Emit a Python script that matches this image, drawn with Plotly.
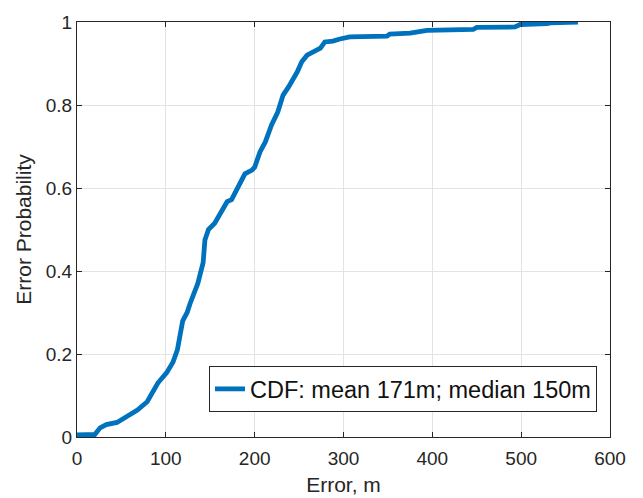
import plotly.graph_objects as go

error_m = [0, 10, 20, 26, 33, 45, 54, 68, 79, 91, 101, 108, 113, 119, 124, 127,
           136, 142, 144, 148, 155, 163, 169, 174, 184, 189, 197, 200, 206, 212,
           219, 226, 232, 238, 248, 253, 259, 268, 274, 279, 288, 296, 307, 349,
           352, 375, 381, 394, 446, 450, 493, 499, 529, 533, 564]
cdf = [0.005, 0.005, 0.006, 0.022, 0.030, 0.035, 0.048, 0.065, 0.085, 0.13,
       0.155, 0.18, 0.21, 0.28, 0.30, 0.32, 0.37, 0.42, 0.475, 0.50, 0.515,
       0.547, 0.567, 0.572, 0.612, 0.634, 0.643, 0.65, 0.687, 0.711, 0.752,
       0.783, 0.824, 0.843, 0.88, 0.904, 0.92, 0.932, 0.937, 0.952, 0.954,
       0.959, 0.964, 0.966, 0.971, 0.973, 0.976, 0.98, 0.982, 0.987, 0.988,
       0.994, 0.996, 0.998, 1.0]

x_ticks = [0, 100, 200, 300, 400, 500, 600]
y_ticks = [0, 0.2, 0.4, 0.6, 0.8, 1]
y_labels = ["0", "0.2", "0.4", "0.6", "0.8", "1"]

FONT = "Liberation Sans, Arial"
INK = "#262626"

fig = go.Figure()
fig.add_trace(go.Scatter(
    x=error_m, y=cdf, mode="lines",
    line=dict(color="#0072BD", width=4.8),
    name="CDF: mean 171m; median 150m",
))

axis_common = dict(
    showline=True, linecolor=INK, linewidth=1, mirror="ticks",
    ticks="inside", ticklen=5, tickcolor=INK,
    showgrid=True, gridcolor="#e3e3e3", gridwidth=1,
    zeroline=False, automargin=False,
    tickfont=dict(family=FONT, size=19, color=INK),
)

fig.update_xaxes(range=[0, 600], tickvals=x_ticks, ticklabelstandoff=4,
                 title=dict(text="Error, m", standoff=9,
                            font=dict(family=FONT, size=21, color=INK)),
                 **axis_common)
fig.update_yaxes(range=[0, 1], tickvals=y_ticks, ticktext=y_labels,
                 title=dict(text="Error Probability", standoff=8,
                            font=dict(family=FONT, size=21, color=INK)),
                 **axis_common)

# page body adds an 8px offset, so the figure is 8px smaller and margins shifted
fig.update_layout(
    width=635, height=490,
    margin=dict(l=69, r=33, t=14, b=61),
    plot_bgcolor="white", paper_bgcolor="white",
    showlegend=True,
    legend=dict(
        x=0.9756, y=0.06, xanchor="right", yanchor="bottom",
        bgcolor="white", bordercolor=INK, borderwidth=1,
        font=dict(family=FONT, size=23.5, color="#111111"),
    ),
)

fig.write_html("out.html")
